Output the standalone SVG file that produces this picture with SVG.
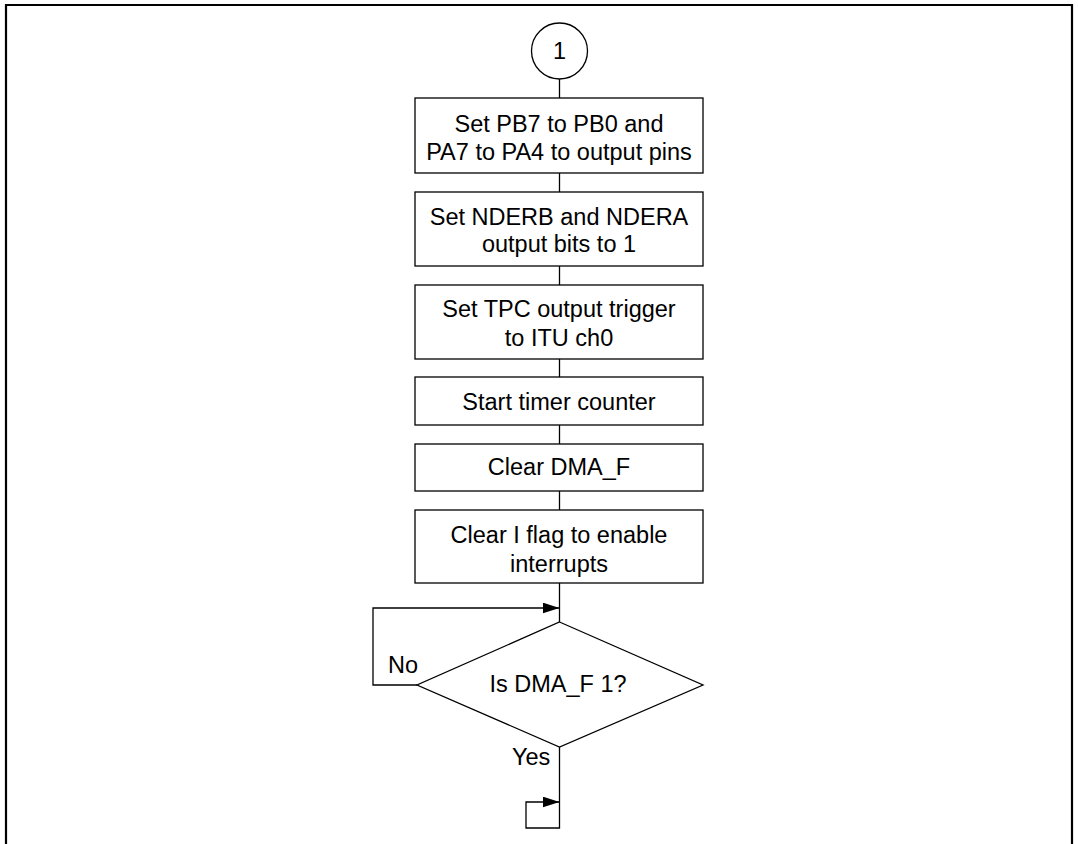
<svg xmlns="http://www.w3.org/2000/svg" width="1078" height="844" viewBox="0 0 1078 844">
<style>
.frame{fill:none;stroke:#000;stroke-width:2.2}
.box{fill:#fff;stroke:#000;stroke-width:1.3}
.ln{fill:none;stroke:#000;stroke-width:1.3}
text{font-family:"Liberation Sans",Arial,sans-serif;font-size:23.5px;fill:#000}
.c{text-anchor:middle}
</style>
<defs>
<marker id="arr" markerWidth="17" markerHeight="11" refX="17" refY="5.5" orient="auto" markerUnits="userSpaceOnUse">
<path d="M0,0 L17,5.5 L0,11 Z" fill="#000"/>
</marker>
</defs>
<rect width="1078" height="844" fill="#fff"/>
<path class="frame" d="M6,844 V5 H1072 V844"/>
<g id="connectors">
<line class="ln" x1="559.5" y1="79" x2="559.5" y2="98"/>
<line class="ln" x1="559.5" y1="173" x2="559.5" y2="192"/>
<line class="ln" x1="559.5" y1="266" x2="559.5" y2="285"/>
<line class="ln" x1="559.5" y1="359" x2="559.5" y2="377"/>
<line class="ln" x1="559.5" y1="425" x2="559.5" y2="444"/>
<line class="ln" x1="559.5" y1="491" x2="559.5" y2="510"/>
<line class="ln" x1="559.5" y1="583" x2="559.5" y2="622"/>
<path class="ln" d="M417,685 H373 V608 H559.5" marker-end="url(#arr)"/>
<path class="ln" d="M559.5,747 V828 H526 V802 H559.5" marker-end="url(#arr)"/>
<text x="388" y="673">No</text>
<text x="512" y="765">Yes</text>
</g>
<g id="start">
<circle class="box" cx="559.5" cy="51" r="28"/>
<text class="c" x="559.5" y="59">1</text>
</g>
<g id="n1">
<rect class="box" x="415" y="98" width="288" height="75"/>
<text class="c" x="559" y="132">Set PB7 to PB0 and</text>
<text class="c" x="559" y="160">PA7 to PA4 to output pins</text>
</g>
<g id="n2">
<rect class="box" x="415" y="192" width="288" height="74"/>
<text class="c" x="559" y="225">Set NDERB and NDERA</text>
<text class="c" x="559" y="252">output bits to 1</text>
</g>
<g id="n3">
<rect class="box" x="415" y="285" width="288" height="74"/>
<text class="c" x="559" y="317">Set TPC output trigger</text>
<text class="c" x="559" y="346">to ITU ch0</text>
</g>
<g id="n4">
<rect class="box" x="415" y="377" width="288" height="48"/>
<text class="c" x="559" y="410">Start timer counter</text>
</g>
<g id="n5">
<rect class="box" x="415" y="444" width="288" height="47"/>
<text class="c" x="559" y="475">Clear DMA_F</text>
</g>
<g id="n6">
<rect class="box" x="415" y="510" width="288" height="73"/>
<text class="c" x="559" y="543">Clear I flag to enable</text>
<text class="c" x="559" y="572">interrupts</text>
</g>
<g id="decision">
<polygon class="box" points="559.5,622 703,685 559.5,747 417,685"/>
<text class="c" x="558" y="692">Is DMA_F 1?</text>
</g>
</svg>
